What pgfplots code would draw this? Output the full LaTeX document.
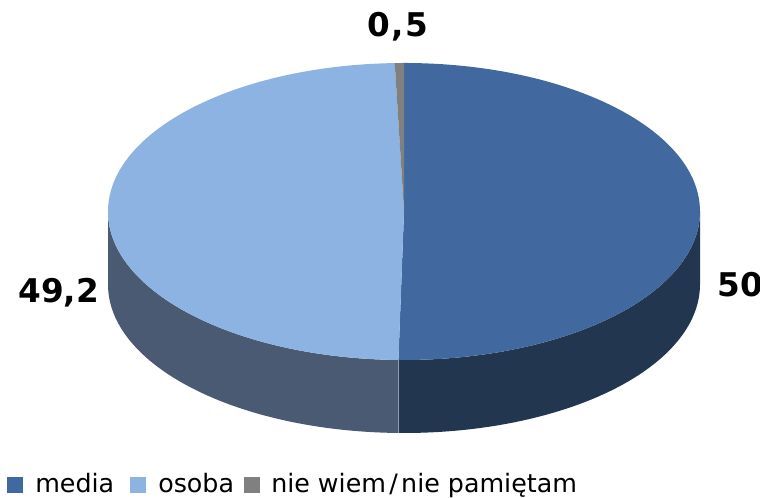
\documentclass[border=0pt]{standalone}
\usepackage{pgfplots}
\pgfplotsset{compat=1.18}
\usepackage{fontspec}
\setmainfont{DejaVu Sans}
\definecolor{mediatop}{HTML}{4169A0}
\definecolor{osobatop}{HTML}{8DB3E2}
\definecolor{mediaside}{HTML}{22364F}
\definecolor{osobaside}{HTML}{4A5A73}
\definecolor{nwcol}{HTML}{808080}
\begin{document}
\begin{tikzpicture}
\useasboundingbox (0,0) rectangle (570pt,373.5pt);
\clip (0,0) rectangle (570pt,373.5pt);
% data (percent)
\def\vmedia{50.3}
\def\vosoba{49.2}
\def\vnw{0.5}
% geometry (axis units = px)
\def\cx{404}\def\cy{286.5}\def\rxu{296}\def\ryu{148.5}
\def\rx{222pt}\def\ry{111.375pt}\def\dep{54.75pt}
\pgfmathsetmacro\aA{90}
\pgfmathsetmacro\aB{\aA-3.6*\vmedia}
\pgfmathsetmacro\aC{\aB-3.6*\vosoba}
\pgfmathsetmacro\aD{\aC-3.6*\vnw}
\begin{axis}[x=0.75pt,y=0.75pt,xmin=0,xmax=760,ymin=0,ymax=498,
  scale only axis, hide axis, clip=false]
% sides
\fill[mediaside] (axis cs:{\cx+\rxu*cos(\aB)},{\cy+\ryu*sin(\aB)})
  arc[start angle=\aB, end angle=0, x radius=\rx, y radius=\ry]
  -- ++(0,-\dep)
  arc[start angle=0, end angle=\aB, x radius=\rx, y radius=\ry] -- cycle;
\fill[osobaside] (axis cs:{\cx-\rxu},{\cy})
  arc[start angle=-180, end angle=\aB, x radius=\rx, y radius=\ry]
  -- ++(0,-\dep)
  arc[start angle=\aB, end angle=-180, x radius=\rx, y radius=\ry] -- cycle;
\draw[line width=0.6pt, color=osobaside!60!white] (axis cs:{\cx+\rxu*cos(\aB)},{\cy+\ryu*sin(\aB)}) -- ++(0,-\dep);
% tops
\fill[mediatop] (axis cs:\cx,\cy) -- (axis cs:{\cx+\rxu*cos(\aA)},{\cy+\ryu*sin(\aA)})
  arc[start angle=\aA, end angle=\aB, x radius=\rx, y radius=\ry] -- cycle;
\fill[osobatop] (axis cs:\cx,\cy) -- (axis cs:{\cx+\rxu*cos(\aB)},{\cy+\ryu*sin(\aB)})
  arc[start angle=\aB, end angle=\aC, x radius=\rx, y radius=\ry] -- cycle;
\fill[nwcol] (axis cs:\cx,\cy) -- (axis cs:{\cx+\rxu*cos(\aC)},{\cy+\ryu*sin(\aC)})
  arc[start angle=\aC, end angle=\aD, x radius=\rx, y radius=\ry] -- cycle;
% value labels
\node[font=\bfseries\fontsize{24.5pt}{28pt}\selectfont, inner sep=0, anchor=base] at (axis cs:398,461) {0\kern1pt,\kern1pt5};
\node[font=\bfseries\fontsize{24.5pt}{28pt}\selectfont, inner sep=0, anchor=base west] at (axis cs:18,195) {49,2};
\node[font=\bfseries\fontsize{24.5pt}{28pt}\selectfont, inner sep=0, anchor=base west] at (axis cs:717,201) {50,3};
% legend
\fill[mediatop] (axis cs:7,5) rectangle (axis cs:23,21);
\node[font=\fontsize{19pt}{22pt}\selectfont, inner sep=0, anchor=base west] at (axis cs:35,5) {media};
\fill[osobatop] (axis cs:130,5) rectangle (axis cs:146,21);
\node[font=\fontsize{19pt}{22pt}\selectfont, inner sep=0, anchor=base west] at (axis cs:158,5) {osoba};
\fill[nwcol] (axis cs:244,5) rectangle (axis cs:260,21);
\node[font=\fontsize{19pt}{22pt}\selectfont, inner sep=0, anchor=base west] at (axis cs:271,5) {nie wiem\kern2.5pt/\kern2.5pt nie pamiętam};
\end{axis}
\end{tikzpicture}
\end{document}
